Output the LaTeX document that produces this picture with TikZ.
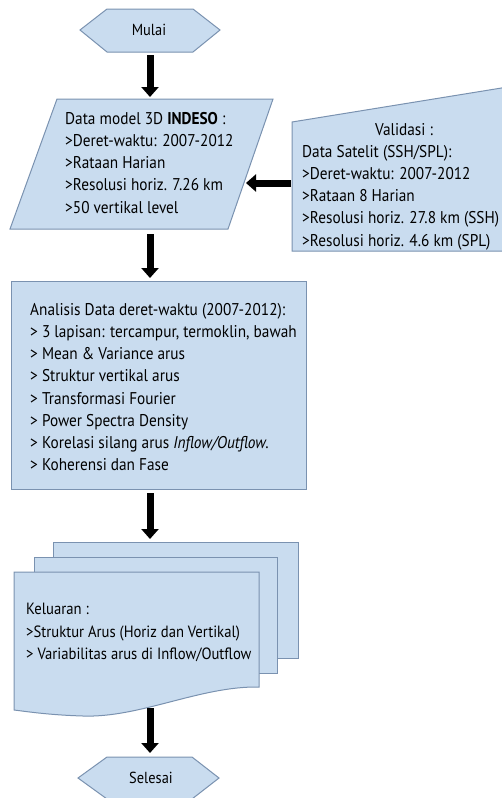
\documentclass[tikz,border=0pt]{standalone}
\usepackage{fontspec}
\setmainfont[FakeStretch=0.9]{PT Sans}
\usetikzlibrary{arrows.meta}
\definecolor{boxfill}{RGB}{201,220,239}
\definecolor{boxline}{RGB}{122,146,176}
\begin{document}
\begin{tikzpicture}[x=1pt,y=-1pt,
  shapebox/.style={fill=boxfill, draw=boxline, line width=1pt, line join=miter},
  txt/.style={inner sep=0pt, align=left, anchor=north west, font=\fontsize{17}{22.2}\selectfont},
  ctxt/.style={inner sep=0pt, font=\fontsize{16}{22}\selectfont},
  flowarrow/.style={line width=7pt, draw=black, -{Triangle[width=17pt,length=10pt]}}]
\useasboundingbox (0,0) rectangle (502,798);

% Mulai
\draw[shapebox] (80,30) -- (107,9) -- (193,9) -- (220,30) -- (193,52) -- (107,52) -- cycle;
\node[ctxt] (mulai) at (149,30) {Mulai};
\coordinate (mulai-s) at (150,55);

% Data model parallelogram
\draw[shapebox] (57,99) -- (273,99) -- (228,229) -- (10,229) -- cycle;
\node[txt] (data) at (65,112) {Data model 3D \textbf{INDESO} :\\>Deret-waktu: 2007-2012\\>Rataan Harian\\>Resolusi horiz. 7.26 km\\>50 vertikal level};
\coordinate (data-n) at (150,97);
\coordinate (data-s) at (150,234);
\coordinate (data-e) at (246,183);

% Validasi
\draw[shapebox] (292,122) -- (520,85) -- (520,251) -- (292,251) -- cycle;
\node[ctxt, font=\fontsize{17}{22}\selectfont] (validtitle) at (404,130) {Validasi :};
\node[txt] (valid) at (302,145) {Data Satelit (SSH/SPL):\\>Deret-waktu: 2007-2012\\>Rataan 8 Harian\\>Resolusi horiz. 27.8 km (SSH)\\>Resolusi horiz. 4.6 km (SPL)};
\coordinate (valid-w) at (291,183);

% Analisis
\draw[shapebox] (11,281) rectangle (306,489);
\node[txt] (anal) at (30,303) {Analisis Data deret-waktu (2007-2012):\\> 3 lapisan: tercampur, termoklin, bawah\\> Mean \& Variance arus\\> Struktur vertikal arus\\> Transformasi Fourier\\> Power Spectra Density\\> Korelasi silang arus \textit{Inflow/Outflow.}\\> Koherensi dan Fase};
\coordinate (anal-n) at (150,278);
\coordinate (anal-s) at (150,493);

% Keluaran multi-document
\draw[shapebox] (53,542) rectangle (298,658);
\draw[shapebox] (34,557) rectangle (277,673);
\draw[shapebox] (14,572) -- (259,572) -- (259,687)
  .. controls (200,686) and (140,718) .. (83,716)
  .. controls (50,715) and (30,712) .. (14,710) -- cycle;
\node[txt, font=\fontsize{16.3}{22.6}\selectfont] (kel) at (26,603) {Keluaran :\\>Struktur Arus (Horiz dan Vertikal)\\> Variabilitas arus di Inflow/Outflow};
\coordinate (doc-n) at (150,539);
\coordinate (doc-s) at (150,708);

% Selesai
\draw[shapebox] (78,778) -- (107,757) -- (192,757) -- (219,778) -- (192,799) -- (107,799) -- cycle;
\node[ctxt] (selesai) at (151,778) {Selesai};
\coordinate (selesai-n) at (150,753);

% Arrows
\draw[flowarrow] (mulai-s) -- (data-n);
\draw[flowarrow] (valid-w) -- (data-e);
\draw[flowarrow] (data-s) -- (anal-n);
\draw[flowarrow] (anal-s) -- (doc-n);
\draw[flowarrow] (doc-s) -- (selesai-n);
\end{tikzpicture}
\end{document}
